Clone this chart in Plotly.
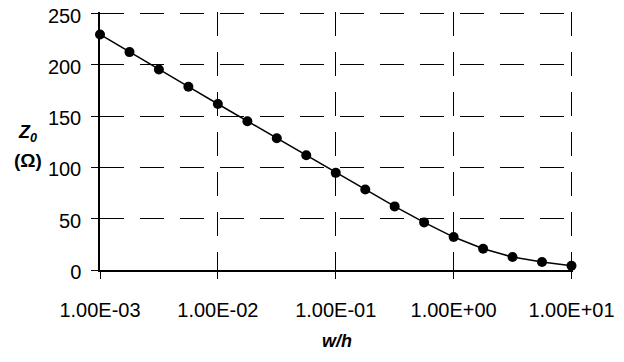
import plotly.graph_objects as go

# data
w_over_h = [0.001, 0.00178, 0.00316, 0.00562, 0.01, 0.0178, 0.0316, 0.0562,
            0.1, 0.178, 0.316, 0.562, 1.0, 1.78, 3.16, 5.62, 10.0]
z0 = [229.6, 212.4, 195.5, 178.7, 161.8, 145.0, 128.4, 111.9,
      94.7, 78.5, 62.0, 46.4, 32.1, 20.7, 12.6, 7.8, 4.2]

x_tickvals = [0.001, 0.01, 0.1, 1, 10]
x_ticktext = ["1.00E-03", "1.00E-02", "1.00E-01", "1.00E+00", "1.00E+01"]
y_tickvals = [0, 50, 100, 150, 200, 250]

FONT = "Liberation Sans, Arial, sans-serif"

fig = go.Figure()
fig.add_trace(go.Scatter(
    x=w_over_h, y=z0, mode="lines+markers",
    line=dict(color="black", width=1.5),
    marker=dict(color="black", size=10, symbol="circle"),
    showlegend=False, cliponaxis=False,
))

fig.update_layout(
    width=624, height=362,
    margin=dict(l=100, r=51, t=12, b=92, autoexpand=False),
    paper_bgcolor="white", plot_bgcolor="white",
    font=dict(family=FONT, size=20, color="black"),
    xaxis=dict(
        type="log", range=[-3, 1.0127], automargin=False,
        tickvals=x_tickvals, ticktext=x_ticktext,
        showgrid=True, gridcolor="black", gridwidth=1, griddash="24px,16px",
        showline=True, linecolor="black", linewidth=1.5,
        ticks="outside", ticklen=7, tickcolor="black", tickwidth=1,
        ticklabelstandoff=14, ticklabeloverflow="allow",
        zeroline=False,
    ),
    yaxis=dict(
        range=[0, 251.5], tickvals=y_tickvals, automargin=False,
        showgrid=True, gridcolor="black", gridwidth=1, griddash="24px,16px",
        showline=True, linecolor="black", linewidth=1.5,
        ticks="outside", ticklen=7, tickcolor="black", tickwidth=1,
        ticklabelstandoff=6, ticklabelshift=2, ticklabeloverflow="allow",
        zeroline=False,
    ),
    annotations=[
        dict(text="<b><i>w/h</i></b>", xref="paper", yref="paper",
             x=(336.5 - 100) / 472, y=(270 - 341) / 257, showarrow=False,
             xanchor="center", yanchor="middle",
             font=dict(family=FONT, size=18, color="black")),
        dict(text="<b><i>Z<sub>0</sub></i></b>", xref="paper", yref="paper",
             x=(28 - 100) / 472, y=(270 - 134) / 257, showarrow=False,
             xanchor="center", yanchor="middle",
             font=dict(family=FONT, size=18, color="black")),
        dict(text="<b>(Ω)</b>", xref="paper", yref="paper",
             x=(28.5 - 100) / 472, y=(270 - 161) / 257, showarrow=False,
             xanchor="center", yanchor="middle",
             font=dict(family=FONT, size=19, color="black")),
    ],
)

fig.write_html("out.html", config={"displayModeBar": False},
               post_script="document.body.style.margin='0';")
